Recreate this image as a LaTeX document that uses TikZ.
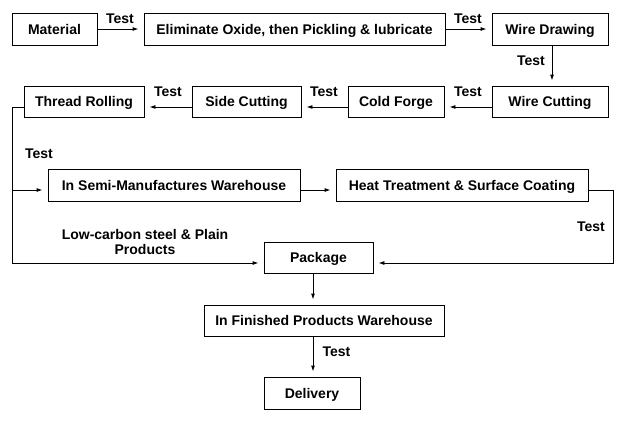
\documentclass[tikz,border=0pt]{standalone}
\usepackage{fontspec}
\setmainfont{Liberation Sans}
\usetikzlibrary{arrows.meta}
\begin{document}
\begin{tikzpicture}[x=1pt,y=-1pt,
  font=\fontsize{14}{16}\selectfont\bfseries,
  box/.style={draw,line width=0.9pt,minimum height=32pt,inner sep=0pt,anchor=center,text height=10pt,text depth=0pt},
  lbl/.style={inner sep=0pt,anchor=center,text height=10pt,text depth=0pt},
  conn/.style={line width=0.9pt},
  arr/.style={conn,-{Latex[length=6pt,width=4pt]},shorten >=5pt}]
\useasboundingbox (0,0) rectangle (633,424);
\fill[white] (0,0) rectangle (633,424);
% boxes
\node[box,minimum width=85pt] (mat) at (54.5,29) {Material};
\node[box,minimum width=301pt] (elim) at (294.5,29) {Eliminate Oxide, then Pickling \& lubricate};
\node[box,minimum width=116pt] (wd) at (550,29) {Wire Drawing};
\node[box,minimum width=116pt,minimum height=31pt] (wc) at (550,101.5) {Wire Cutting};
\node[box,minimum width=96pt,minimum height=31pt] (cf) at (396,101.5) {Cold Forge};
\node[box,minimum width=109pt,minimum height=31pt] (sc) at (246.5,101.5) {Side Cutting};
\node[box,minimum width=120pt,minimum height=31pt] (tr) at (84,101.5) {Thread Rolling};
\node[box,minimum width=252pt] (semi) at (174,185) {In Semi-Manufactures Warehouse};
\node[box,minimum width=252pt] (heat) at (462,185) {Heat Treatment \& Surface Coating};
\node[box,minimum width=109pt,minimum height=31pt] (pkg) at (318.5,257.5) {Package};
\node[box,minimum width=240pt,minimum height=31pt] (fin) at (324,320.5) {In Finished Products Warehouse};
\node[box,minimum width=96pt] (del) at (312,393) {Delivery};
% helper coordinates
\coordinate (L1) at (12,107);
\coordinate (L2) at (12,190);
\coordinate (L3) at (12,263);
\coordinate (R1) at (613,190);
\coordinate (R2) at (613,263);
\coordinate (vx) at (313,0);
\coordinate (wx) at (552,0);
% connectors
\draw[arr] (mat.east) -- (elim.west);
\draw[arr] (elim.east) -- (wd.west);
\draw[arr] (wx |- wd.south) -- (wx |- wc.north);
\draw[arr] ([yshift=-5.5pt]wc.west) -- ([yshift=-5.5pt]cf.east);
\draw[arr] ([yshift=-5.5pt]cf.west) -- ([yshift=-5.5pt]sc.east);
\draw[arr] ([yshift=-5.5pt]sc.west) -- ([yshift=-5.5pt]tr.east);
\draw[conn] ([yshift=-5.5pt]tr.west) -- (L1) -- (L2);
\draw[arr] (L2) -- ([yshift=-5pt]semi.west);
\draw[arr] (L2) -- (L3) -- ([yshift=-5.5pt]pkg.west);
\draw[arr] ([yshift=-5pt]semi.east) -- ([yshift=-5pt]heat.west);
\draw[arr] ([yshift=-5pt]heat.east) -- (R1) -- (R2) -- ([yshift=-5.5pt]pkg.east);
\draw[arr] (vx |- pkg.south) -- (vx |- fin.north);
\draw[arr] (vx |- fin.south) -- (vx |- del.north);
% labels
\node[lbl] (t1) at (120,18) {Test};
\node[lbl] (t2) at (468,18) {Test};
\node[lbl] (t3) at (531,60) {Test};
\node[lbl] (t4) at (168,91) {Test};
\node[lbl] (t5) at (324,91) {Test};
\node[lbl] (t6) at (468,91) {Test};
\node[lbl] (t7) at (39,153) {Test};
\node[lbl] (t8) at (591,226) {Test};
\node[lbl] (t9) at (336.5,351) {Test};
\node[inner sep=0pt,anchor=center,align=center,font=\fontsize{14}{15}\selectfont\bfseries] (lc) at (145,242) {Low-carbon steel \& Plain\\Products};
\end{tikzpicture}
\end{document}
